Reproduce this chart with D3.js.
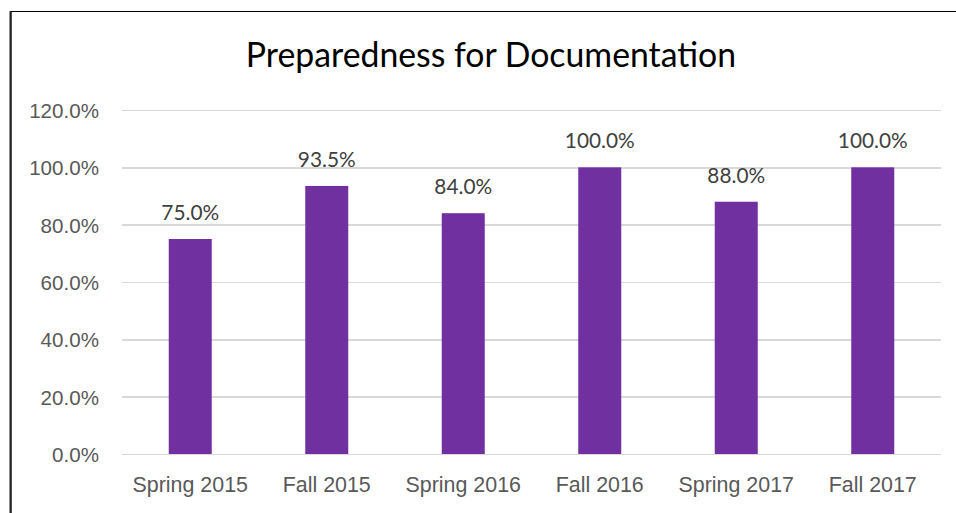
<!DOCTYPE html>
<meta charset="utf-8">
<style>
body { margin: 0; background: #fff; }
svg { display: block; font-family: Lato, "Open Sans", sans-serif; }
.grid line { stroke: #d9d9d9; stroke-width: 1.5; shape-rendering: crispEdges; }
.grid path { display: none; }
.axis text { fill: #595959; font-size: 20.6px; }
.axis.x text { font-size: 21.4px; }
.axis path, .axis line { display: none; }
.value { fill: #404040; font-size: 20.8px; text-anchor: middle; }
.title { fill: #000; font-size: 33.8px; text-anchor: middle; }
</style>
<body>
<script src="https://cdnjs.cloudflare.com/ajax/libs/d3/7.8.5/d3.min.js"></script>
<script>

var terms = ["Spring 2015", "Fall 2015", "Spring 2016", "Fall 2016", "Spring 2017", "Fall 2017"];
var values = [75.0, 93.5, 84.0, 100.0, 88.0, 100.0];
var yTicks = [0, 20, 40, 60, 80, 100, 120];

var width = 956, height = 513;
var plot = {left: 122, right: 941, top: 110, bottom: 454};

var svg = d3.select("body").append("svg")
    .attr("width", width)
    .attr("height", height);

// chart frame (cropped at right and bottom)
svg.append("path")
    .attr("d", "M11,513 V11.5 H956")
    .attr("fill", "none")
    .attr("stroke", "#000")
    .attr("stroke-width", 1);
svg.append("line")
    .attr("x1", 10.5).attr("x2", 10.5)
    .attr("y1", 11).attr("y2", 513)
    .attr("stroke", "#222")
    .attr("stroke-width", 2);

var x = d3.scaleBand()
    .domain(terms)
    .range([plot.left, plot.right])
    .paddingInner(0.685)
    .paddingOuter(0.3425);

var y = d3.scaleLinear()
    .domain([0, 120])
    .range([plot.bottom, plot.top]);

svg.append("text")
    .attr("class", "title")
    .attr("x", 491)
    .attr("y", 67)
    .text("Preparedness for Documentation");

svg.append("g")
    .attr("class", "grid")
    .attr("transform", "translate(" + plot.left + ",0)")
    .call(d3.axisLeft(y).tickValues(yTicks).tickSize(-(plot.right - plot.left)).tickFormat(""));

svg.append("g")
    .attr("class", "axis y")
    .attr("transform", "translate(" + plot.left + ",0)")
    .call(d3.axisLeft(y).tickValues(yTicks).tickSize(0).tickPadding(23)
      .tickFormat(function(d) { return d3.format(".1f")(d) + "%"; }))
    .selectAll("text").attr("dy", "0.36em");

svg.append("g")
    .attr("class", "axis x")
    .attr("transform", "translate(0," + plot.bottom + ")")
    .call(d3.axisBottom(x).tickSize(0).tickPadding(23))
    .selectAll("text").attr("dy", "0.71em");

svg.selectAll(".bar")
    .data(values)
  .enter().append("rect")
    .attr("class", "bar")
    .attr("x", function(d, i) { return x(terms[i]); })
    .attr("width", x.bandwidth())
    .attr("y", function(d) { return y(d); })
    .attr("height", function(d) { return y(0) - y(d); })
    .attr("fill", "#7030a0");

svg.selectAll(".value")
    .data(values)
  .enter().append("text")
    .attr("class", "value")
    .attr("x", function(d, i) { return x(terms[i]) + x.bandwidth() / 2; })
    .attr("y", function(d) { return y(d) - 19; })
    .text(function(d) { return d3.format(".1f")(d) + "%"; });

</script>
